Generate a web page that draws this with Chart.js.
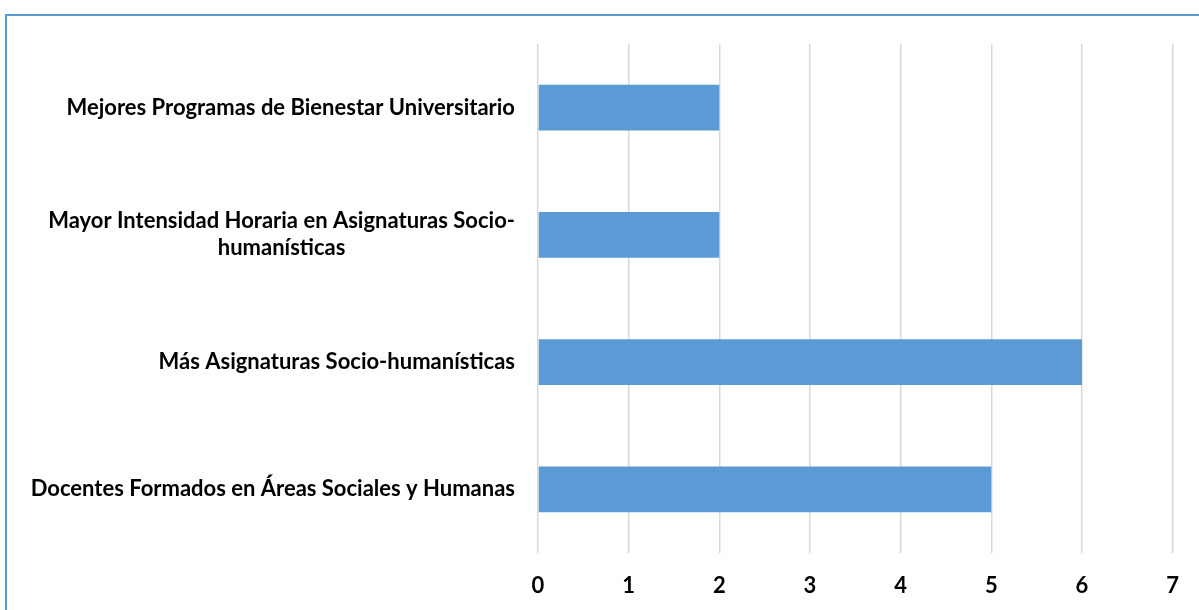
<!DOCTYPE html>
<html>
<head>
<meta charset="utf-8">
<script src="https://cdn.jsdelivr.net/npm/chart.js@4.4.1/dist/chart.umd.min.js"></script>
<style>
  html, body { margin: 0; padding: 0; background: #fff; overflow: hidden; }
  #frame {
    position: absolute; left: 5px; top: 14px; width: 1220px; height: 640px;
    border: 2px solid #5b9bd5; box-sizing: border-box;
  }
  #wrap { position: absolute; left: 0; top: 0; width: 1199px; height: 610px; }
</style>
</head>
<body>
<div id="frame"></div>
<div id="wrap"><canvas id="chart"></canvas></div>
<script>
// categories, top to bottom as in the picture
const categories = [
  ['Mejores Programas de Bienestar Universitario'],
  ['Mayor Intensidad Horaria en Asignaturas Socio-', 'humanísticas'],
  ['Más Asignaturas Socio-humanísticas'],
  ['Docentes Formados en Áreas Sociales y Humanas']
];
const values = [2, 2, 6, 5];
const xTicks = [0, 1, 2, 3, 4, 5, 6, 7];

const fontFamily = 'Lato, "Open Sans", sans-serif';
const labelFont = 'bold 22px ' + fontFamily;

// Excel-style category labels: block right-aligned, lines centered within it
const categoryLabels = {
  id: 'categoryLabels',
  afterDraw(chart) {
    const { ctx, scales: { y } } = chart;
    const right = chart.chartArea.left - 23;
    ctx.save();
    ctx.font = labelFont;
    ctx.fillStyle = '#000';
    ctx.textBaseline = 'middle';
    ctx.textAlign = 'center';
    const lineH = 27;
    categories.forEach((lines, i) => {
      const cy = y.getPixelForValue(i);
      const w = Math.max(...lines.map(l => ctx.measureText(l).width));
      const cx = right - w / 2;
      const top = cy - (lines.length - 1) * lineH / 2;
      lines.forEach((l, j) => ctx.fillText(l, cx, top + j * lineH));
    });
    ctx.restore();
  }
};

new Chart(document.getElementById('chart'), {
  type: 'bar',
  data: {
    labels: categories.map(c => c.join(' ')),
    datasets: [{
      data: values,
      backgroundColor: '#5b9bd5',
      categoryPercentage: 1,
      barPercentage: 0.36
    }]
  },
  options: {
    indexAxis: 'y',
    responsive: true,
    maintainAspectRatio: false,
    animation: false,
    layout: { padding: { top: 44, right: 23, bottom: 0, left: 0 } },
    plugins: { legend: { display: false }, tooltip: { enabled: false } },
    scales: {
      x: {
        min: 0, max: 7,
        afterBuildTicks: s => { s.ticks = xTicks.map(v => ({ value: v })); },
        grid: { color: '#d9d9d9', lineWidth: 1.5, drawTicks: false },
        border: { display: false },
        ticks: { color: '#000', padding: 20, font: { family: fontFamily, size: 22, weight: 'bold' } },
        afterFit: s => { s.height = 57; }
      },
      y: {
        grid: { display: false },
        border: { display: false },
        ticks: { display: false },
        afterFit: s => { s.width = 538; }
      }
    }
  },
  plugins: [categoryLabels]
});
</script>
</body>
</html>
